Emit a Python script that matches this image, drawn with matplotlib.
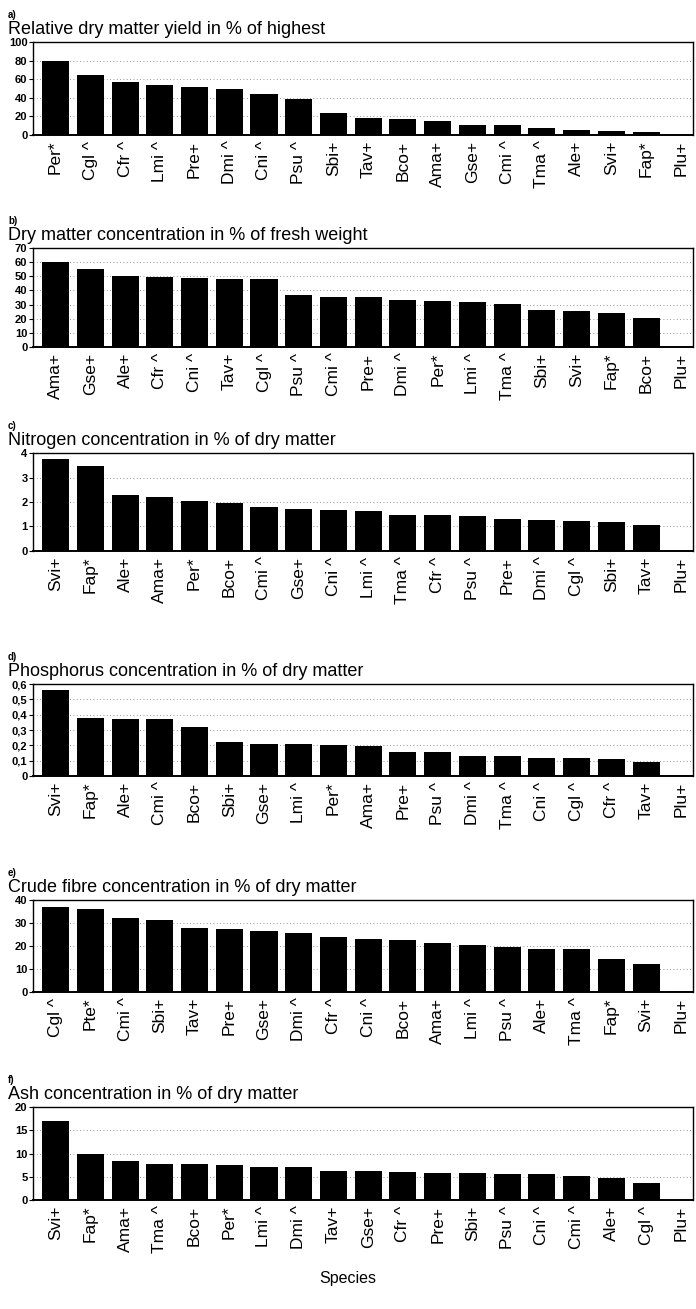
# Composición por especie: seis paneles de barras apiladas verticalmente

import numpy as np
import matplotlib.pyplot as plt

plt.rcParams['font.family'] = ['Liberation Sans', 'DejaVu Sans']

# Datos de cada panel

especies_a = ['Per*', 'Cgl ^', 'Cfr ^', 'Lmi ^', 'Pre+', 'Dmi ^', 'Cni ^', 'Psu ^', 'Sbi+', 'Tav+',
              'Bco+', 'Ama+', 'Gse+', 'Cmi ^', 'Tma ^', 'Ale+', 'Svi+', 'Fap*', 'Plu+']
rendimiento = [80, 65, 57, 54, 52, 49, 44, 39, 24, 18, 17, 15, 11, 11, 7, 5, 4, 3, 0]

especies_b = ['Ama+', 'Gse+', 'Ale+', 'Cfr ^', 'Cni ^', 'Tav+', 'Cgl ^', 'Psu ^', 'Cmi ^', 'Pre+',
              'Dmi ^', 'Per*', 'Lmi ^', 'Tma ^', 'Sbi+', 'Svi+', 'Fap*', 'Bco+', 'Plu+']
materia_seca = [60, 55.5, 50, 49.5, 48.5, 48, 48, 37, 35.5, 35.5, 33.5, 32.5, 32, 30.5,
                26.5, 25.5, 24, 20.5, 0]

especies_c = ['Svi+', 'Fap*', 'Ale+', 'Ama+', 'Per*', 'Bco+', 'Cmi ^', 'Gse+', 'Cni ^', 'Lmi ^',
              'Tma ^', 'Cfr ^', 'Psu ^', 'Pre+', 'Dmi ^', 'Cgl ^', 'Sbi+', 'Tav+', 'Plu+']
nitrogeno = [3.75, 3.45, 2.3, 2.2, 2.05, 1.95, 1.8, 1.72, 1.67, 1.62, 1.48, 1.45, 1.42,
             1.32, 1.28, 1.23, 1.18, 1.05, 0]

especies_d = ['Svi+', 'Fap*', 'Ale+', 'Cmi ^', 'Bco+', 'Sbi+', 'Gse+', 'Lmi ^', 'Per*', 'Ama+',
              'Pre+', 'Psu ^', 'Dmi ^', 'Tma ^', 'Cni ^', 'Cgl ^', 'Cfr ^', 'Tav+', 'Plu+']
fosforo = [0.56, 0.38, 0.37, 0.37, 0.32, 0.22, 0.21, 0.21, 0.205, 0.195, 0.155, 0.155,
           0.13, 0.128, 0.12, 0.118, 0.112, 0.09, 0.005]

especies_e = ['Cgl ^', 'Pte*', 'Cmi ^', 'Sbi+', 'Tav+', 'Pre+', 'Gse+', 'Dmi ^', 'Cfr ^', 'Cni ^',
              'Bco+', 'Ama+', 'Lmi ^', 'Psu ^', 'Ale+', 'Tma ^', 'Fap*', 'Svi+', 'Plu+']
fibra = [37, 36, 32, 31.5, 28, 27.5, 26.5, 25.5, 24, 23, 22.5, 21.5, 20.5, 19.5,
         18.5, 18.5, 14.5, 12, 0.5]

especies_f = ['Svi+', 'Fap*', 'Ama+', 'Tma ^', 'Bco+', 'Per*', 'Lmi ^', 'Dmi ^', 'Tav+', 'Gse+',
              'Cfr ^', 'Pre+', 'Sbi+', 'Psu ^', 'Cni ^', 'Cmi ^', 'Ale+', 'Cgl ^', 'Plu+']
cenizas = [17, 10, 8.3, 7.8, 7.8, 7.5, 7, 7, 6.3, 6.3, 6, 5.8, 5.7, 5.6, 5.6, 5.2, 4.7, 3.7, 0]

titulos = ['Relative dry matter yield in % of highest',
           'Dry matter concentration in % of fresh weight',
           'Nitrogen concentration in % of dry matter',
           'Phosphorus concentration in % of dry matter',
           'Crude fibre concentration in % of dry matter',
           'Ash concentration in % of dry matter']
letras = ['a)', 'b)', 'c)', 'd)', 'e)', 'f)']

ticks_a = [0, 20, 40, 60, 80, 100]
ticks_b = [0, 10, 20, 30, 40, 50, 60, 70]
ticks_c = [0, 1, 2, 3, 4]
ticks_d = [0, 0.1, 0.2, 0.3, 0.4, 0.5, 0.6]
etiquetas_d = ['0', '0,1', '0,2', '0,3', '0,4', '0,5', '0,6']
ticks_e = [0, 10, 20, 30, 40]
ticks_f = [0, 5, 10, 15, 20]

paneles = [
    (especies_a, rendimiento, ticks_a, [str(t) for t in ticks_a]),
    (especies_b, materia_seca, ticks_b, [str(t) for t in ticks_b]),
    (especies_c, nitrogeno, ticks_c, [str(t) for t in ticks_c]),
    (especies_d, fosforo, ticks_d, etiquetas_d),
    (especies_e, fibra, ticks_e, [str(t) for t in ticks_e]),
    (especies_f, cenizas, ticks_f, [str(t) for t in ticks_f]),
]

# Posición vertical de cada eje en píxeles (borde superior, borde inferior)
W, H = 696, 1309
bordes = [(42, 135), (248, 347), (453, 551), (684, 776), (900, 992), (1107, 1200)]
izq, der = 33, 693


def GraficarPanel(fig, i):
    especies, valores, ticks, etiquetas = paneles[i]
    arriba, abajo = bordes[i]
    ax = fig.add_axes([izq / W, 1 - abajo / H, (der - izq) / W, (abajo - arriba) / H])
    x = np.arange(len(especies))
    ax.bar(x, valores, width=0.78, color='black', zorder=3)

    ax.set_xlim(-0.65, len(especies) - 0.65)
    ax.set_ylim(ticks[0], ticks[-1])
    ax.set_xticks(x)
    ax.set_xticklabels(especies, rotation=90, fontsize=12.5)
    ax.tick_params(axis='x', length=0, pad=4)
    ax.set_yticks(ticks)
    ax.set_yticklabels(etiquetas, fontsize=8, fontweight='bold')
    ax.tick_params(axis='y', length=3, width=0.8, pad=1)

    # Líneas de referencia punteadas
    for t in ticks[1:-1]:
        ax.axhline(t, color='#777777', linewidth=0.6, linestyle=(0, (1, 3)), zorder=1)

    for lado in ax.spines.values():
        lado.set_linewidth(1.0)
    ax.spines['bottom'].set_linewidth(1.4)

    fig.text(8 / W, 1 - (arriba - 8) / H, titulos[i], fontsize=13,
             ha='left', va='baseline')
    fig.text(8 / W, 1 - (arriba - 24) / H, letras[i], fontsize=7,
             fontweight='bold', ha='left', va='baseline')
    return ax


def main():
    fig = plt.figure(figsize=(W / 100, H / 100), dpi=100)
    for i in range(len(paneles)):
        GraficarPanel(fig, i)
    fig.text(348 / W, 1 - 1278 / H, 'Species', fontsize=11.5, ha='center', va='center')
    fig.savefig('out.png', dpi=100)


if __name__ == '__main__':
    main()
